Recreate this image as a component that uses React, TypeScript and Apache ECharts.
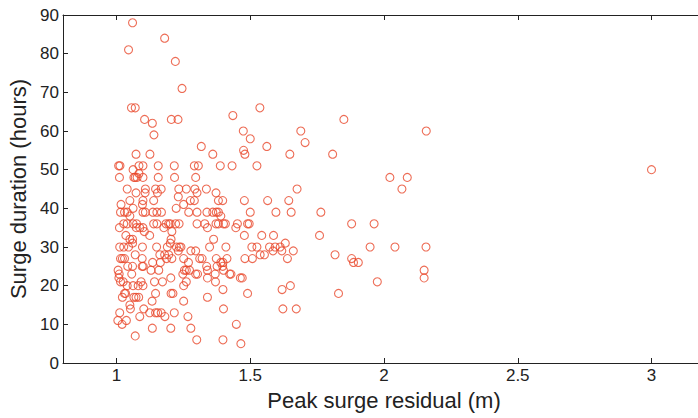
import React, { useEffect, useRef } from "react";
import * as echarts from "echarts";

// [peak surge residual (m), surge duration (hours)]
const highDurations: number[][] = [
  [1.06, 88], [1.045, 81], [1.18, 84], [1.22, 78], [1.245, 71], [1.056, 66], [1.07, 66],
  [1.105, 63], [1.134, 62], [1.14, 59], [1.205, 63], [1.23, 63], [1.317, 56], [1.435, 64],
  [1.474, 60], [1.536, 66], [1.5, 58], [1.475, 55], [1.562, 56], [1.689, 60], [1.705, 57],
  [1.85, 63], [2.158, 60],
];

const band40to54: number[][] = [
  [1.073, 54], [1.125, 54], [1.36, 54], [1.48, 54], [1.648, 54], [1.808, 54],
  [1.008, 51], [1.013, 51], [1.084, 51], [1.099, 51], [1.156, 51], [1.216, 51], [1.291, 51],
  [1.306, 51], [1.388, 51], [1.432, 51], [1.525, 51],
  [1.011, 48], [1.062, 50], [1.065, 48], [1.07, 48], [1.077, 48], [1.084, 49], [1.099, 48],
  [1.156, 48], [1.217, 48], [1.296, 48], [2.022, 48], [2.087, 48],
  [1.04, 45], [1.108, 45], [1.146, 45], [1.167, 45], [1.233, 45], [1.261, 45], [1.293, 45],
  [1.336, 45], [1.675, 45], [2.067, 45],
  [1.073, 44], [1.107, 44], [1.153, 44], [1.231, 43], [1.301, 44], [1.372, 44],
  [1.05, 42], [1.099, 42], [1.139, 42], [1.276, 42], [1.291, 42], [1.381, 42], [1.397, 42],
  [1.478, 42], [1.565, 42], [1.644, 42],
  [1.017, 41], [1.097, 41], [1.251, 41], [1.062, 40], [1.223, 40],
];

const band28to39: number[][] = [
  [1.015, 39], [1.03, 39], [1.04, 39], [1.099, 39], [1.108, 39], [1.136, 39], [1.151, 39],
  [1.168, 39], [1.27, 39], [1.301, 39], [1.338, 39], [1.36, 39], [1.373, 39], [1.381, 39],
  [1.5, 39], [1.596, 39], [1.653, 39], [1.764, 39],
  [1.05, 38], [1.39, 38],
  [1.027, 36], [1.04, 36], [1.062, 36], [1.075, 36], [1.139, 36], [1.151, 36], [1.185, 36],
  [1.195, 36], [1.201, 36], [1.221, 36], [1.234, 36], [1.301, 36], [1.33, 36], [1.372, 36],
  [1.381, 36], [1.4, 36], [1.407, 36], [1.452, 36], [1.49, 36], [1.496, 36], [1.879, 36],
  [1.963, 36],
  [1.011, 35], [1.074, 35], [1.087, 35], [1.099, 35], [1.177, 35], [1.34, 35], [1.446, 35],
  [1.104, 34], [1.207, 34], [1.035, 33],
  [1.124, 33], [1.478, 33], [1.543, 33], [1.587, 33], [1.759, 33],
  [1.05, 32], [1.06, 32], [1.204, 32], [1.363, 32],
  [1.06, 31], [1.201, 31], [1.631, 31],
  [1.012, 30], [1.027, 30], [1.045, 30], [1.097, 30], [1.15, 30], [1.19, 30], [1.224, 30],
  [1.235, 30], [1.241, 30], [1.348, 30], [1.409, 30], [1.506, 30], [1.525, 30], [1.572, 30],
  [1.593, 30], [1.612, 30], [1.948, 30], [2.041, 30], [2.157, 30],
  [1.231, 29], [1.278, 29], [1.296, 29], [1.585, 29], [1.618, 29], [1.661, 29],
  [1.07, 28], [1.162, 28], [1.18, 28], [1.195, 28], [1.537, 28], [1.553, 28], [1.817, 28],
];

const band15to27: number[][] = [
  [1.015, 27], [1.022, 27], [1.03, 27], [1.096, 27], [1.187, 27], [1.207, 27], [1.251, 27],
  [1.311, 27], [1.32, 27], [1.373, 27], [1.413, 27], [1.48, 27], [1.508, 27], [1.639, 27],
  [1.879, 27],
  [1.269, 26], [1.135, 26], [1.164, 26], [1.39, 26], [1.398, 26], [1.886, 26], [1.904, 26],
  [1.042, 25], [1.06, 25], [1.096, 25], [1.1, 25], [1.337, 25], [1.376, 25], [1.397, 25],
  [1.006, 24], [1.129, 24], [1.158, 24], [1.254, 24], [1.261, 24], [1.273, 24], [1.34, 24],
  [1.4, 24], [2.15, 24],
  [1.01, 23], [1.057, 23], [1.248, 23], [1.296, 23], [1.303, 23], [1.369, 23], [1.423, 23],
  [1.428, 23],
  [1.009, 22], [1.203, 22], [1.34, 22], [1.463, 22], [1.47, 22], [2.15, 22],
  [1.015, 21], [1.025, 21], [1.092, 21], [1.142, 21], [1.172, 21], [1.261, 21], [1.37, 21],
  [1.975, 21],
  [1.04, 20], [1.062, 20], [1.081, 20], [1.099, 20], [1.251, 20], [1.65, 20],
  [1.398, 19], [1.619, 19],
  [1.03, 18], [1.034, 18], [1.146, 18], [1.204, 18], [1.211, 18], [1.49, 18], [1.83, 18],
  [1.022, 17], [1.065, 17], [1.073, 17], [1.083, 17], [1.34, 17],
  [1.133, 16], [1.251, 16], [1.05, 15],
];

const lowDurations: number[][] = [
  [1.052, 14], [1.102, 14], [1.4, 14], [1.622, 14], [1.672, 14],
  [1.012, 13], [1.124, 13], [1.146, 13], [1.154, 13], [1.167, 13], [1.216, 13],
  [1.087, 12], [1.181, 12], [1.267, 12],
  [1.005, 11], [1.037, 11], [1.021, 10], [1.448, 10],
  [1.134, 9], [1.203, 9], [1.278, 9],
  [1.07, 7], [1.3, 6], [1.398, 6], [1.465, 5],
];

const rightTail: number[][] = [[3.0, 50]];

const xTickValues = [1, 1.5, 2, 2.5, 3];

const FONT = "'Liberation Sans', Arial, Helvetica, sans-serif";
const AXIS_COLOR = "#222";
const MARKER_COLOR = "#e9472a";

export default function App() {
  const ref = useRef<HTMLDivElement>(null);

  useEffect(() => {
    if (!ref.current) return;
    const chart = echarts.init(ref.current, undefined, { renderer: "svg" });
    const allPoints = [
      ...highDurations,
      ...band40to54,
      ...band28to39,
      ...band15to27,
      ...lowDurations,
      ...rightTail,
    ];
    const xBase = {
      type: "value" as const,
      min: 0.8,
      max: 3.2,
      splitLine: { show: false },
      axisLine: { show: true, onZero: false, lineStyle: { color: AXIS_COLOR, width: 1 } },
      axisTick: {
        show: true,
        inside: true,
        length: 5,
        customValues: xTickValues,
        lineStyle: { color: AXIS_COLOR },
      },
    };
    const yBase = {
      type: "value" as const,
      min: 0,
      max: 90,
      interval: 10,
      splitLine: { show: false },
      axisLine: { show: true, onZero: false, lineStyle: { color: AXIS_COLOR, width: 1 } },
      axisTick: { show: true, inside: true, length: 5, lineStyle: { color: AXIS_COLOR } },
    };
    chart.setOption({
      animation: false,
      backgroundColor: "#ffffff",
      grid: {
        left: 63,
        top: 15,
        width: 642,
        bottom: 55,
        containLabel: false,
        outerBoundsMode: "none",
      },
      xAxis: [
        {
          ...xBase,
          position: "bottom",
          name: "Peak surge residual (m)",
          nameLocation: "middle",
          nameGap: 26,
          nameTextStyle: { fontFamily: FONT, fontSize: 22, color: AXIS_COLOR },
          axisLabel: {
            show: true,
            customValues: xTickValues,
            fontFamily: FONT,
            fontSize: 17,
            color: AXIS_COLOR,
            margin: 4,
            formatter: (v: number) => String(v),
          },
        },
        {
          ...xBase,
          position: "top",
          axisLabel: { show: false },
        },
      ],
      yAxis: [
        {
          ...yBase,
          position: "left",
          name: "Surge duration (hours)",
          nameLocation: "middle",
          nameGap: 33,
          nameTextStyle: { fontFamily: FONT, fontSize: 22, color: AXIS_COLOR },
          axisLabel: { fontFamily: FONT, fontSize: 17, color: AXIS_COLOR, margin: 4 },
        },
        {
          ...yBase,
          position: "right",
          axisLabel: { show: false },
        },
      ],
      series: [
        {
          type: "scatter",
          xAxisIndex: 0,
          yAxisIndex: 0,
          symbol: "circle",
          symbolSize: 8,
          itemStyle: { color: "rgba(0,0,0,0)", borderColor: MARKER_COLOR, borderWidth: 1.1 },
          data: allPoints,
        },
      ],
    });
    return () => chart.dispose();
  }, []);

  return (
    <div
      ref={ref}
      style={{ position: "fixed", left: 0, top: 0, width: 698, height: 418, background: "#fff" }}
    />
  );
}
